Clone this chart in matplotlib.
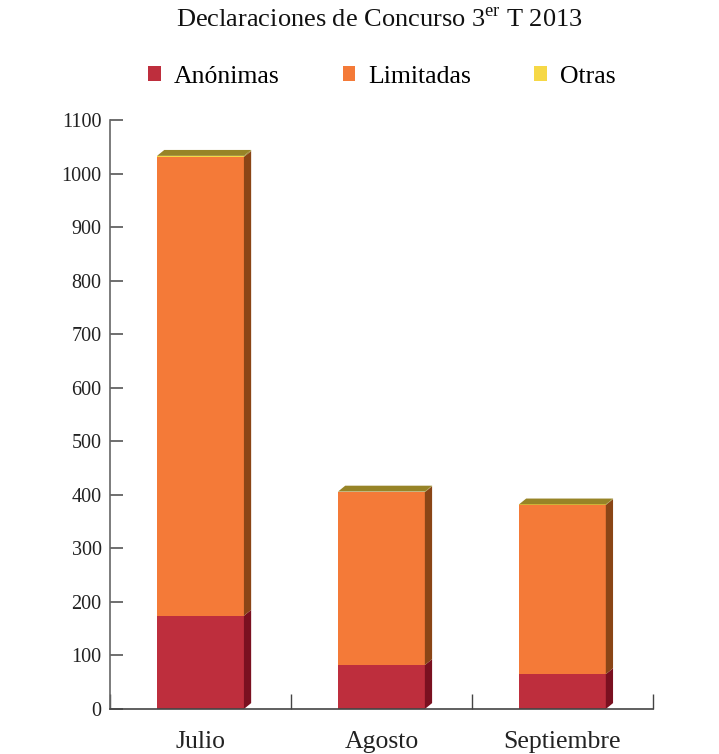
import matplotlib

matplotlib.use("Agg")
import matplotlib.pyplot as plt
from matplotlib.patches import Polygon, Patch
import numpy as np

# ---------- data ----------
months = ["Julio", "Agosto", "Septiembre"]
anonimas = [174, 82, 65]
limitadas = [857, 323, 316]
otras = [2, 1, 1]

series = [
    ("Anónimas", anonimas, "#be2e3d", "#7a1020"),
    ("Limitadas", limitadas, "#f47a38", "#8a4516"),
    ("Otras", otras, "#f6d846", "#978427"),
]

plt.rcParams["font.family"] = ["Liberation Serif", "DejaVu Serif"]
plt.rcParams["mathtext.fontset"] = "custom"
plt.rcParams["mathtext.rm"] = "Liberation Serif"

fig = plt.figure(figsize=(7.19, 7.54), dpi=100)
ax = fig.add_axes([0.153, 0.0597, 0.755, 0.7812])

x = np.arange(len(months))
w = 0.48
dx = 0.04  # depth in category units
dy = 11.0  # depth in value units

bottom = np.zeros(len(months))
for name, vals, face, side in series:
    vals = np.array(vals, dtype=float)
    ax.bar(x, vals, bottom=bottom, width=w, color=face, linewidth=0, zorder=2)
    for i in range(len(months)):
        if vals[i] <= 0:
            continue
        xr = x[i] + w / 2
        y0, y1 = bottom[i], bottom[i] + vals[i]
        ax.add_patch(
            Polygon(
                [(xr, y0), (xr + dx, y0 + dy), (xr + dx, y1 + dy), (xr, y1)],
                closed=True, facecolor=side, edgecolor="none", zorder=2,
            )
        )
    bottom += vals

# top faces
top_side = series[-1][3]
for i in range(len(months)):
    xl, xr = x[i] - w / 2, x[i] + w / 2
    yt = bottom[i]
    ax.add_patch(
        Polygon(
            [(xl, yt), (xl + dx, yt + dy), (xr + dx, yt + dy), (xr, yt)],
            closed=True, facecolor=top_side, edgecolor="none", zorder=2,
        )
    )

ax.set_xlim(-0.5, 2.5)
ax.set_ylim(0, 1100)
ax.set_yticks(np.arange(0, 1101, 100))
ax.set_xticks(x)
ax.set_xticklabels(months, fontsize=18.5, color="#222222")
ax.set_xticks(np.arange(-0.5, 2.6, 1), minor=True)
ax.tick_params(axis="x", which="major", length=0, pad=16)
ax.tick_params(axis="x", which="minor", direction="in", length=11, width=1, color="#444444")
ax.tick_params(axis="y", direction="in", length=9.5, width=1.2, color="#555555",
               labelsize=14.5, labelcolor="#222222", pad=6)

for s in ["top", "right"]:
    ax.spines[s].set_visible(False)
ax.spines["left"].set_color("#666666")
ax.spines["left"].set_linewidth(1.2)
ax.spines["bottom"].set_color("#444444")
ax.spines["bottom"].set_linewidth(1.2)

fig.text(0.528, 0.973, "Declaraciones de Concurso 3$^{\\rm er}$ T 2013",
         ha="center", va="center", fontsize=19, color="#111111")

handles = [Patch(facecolor=c, edgecolor="none") for _, _, c, _ in series]
fig.legend(handles, [s[0] for s in series], loc="center", bbox_to_anchor=(0.531, 0.898),
           ncol=3, frameon=False, fontsize=18.5, handlelength=0.5, handleheight=0.5,
           handletextpad=0.5, columnspacing=2.45)

fig.savefig("out.png", dpi=100)
